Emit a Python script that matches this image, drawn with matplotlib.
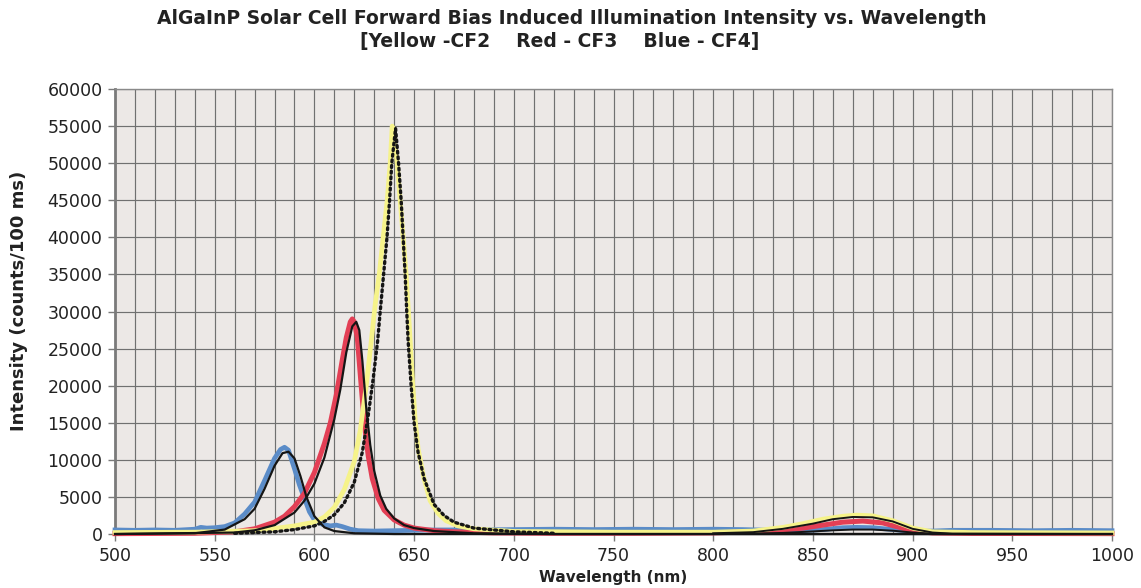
import matplotlib
matplotlib.use("Agg")
import matplotlib.pyplot as plt
from matplotlib.ticker import MultipleLocator

# CF4 - blue, measured spectrum
wl_blue = [500, 510, 520, 530, 540, 543, 546, 550, 555, 560, 565, 570, 575, 580, 583, 585, 587,
           590, 592.5, 595, 597.5, 600, 604, 608, 611, 614, 618, 622, 630, 640, 650, 660, 680, 700,
           720, 740, 760, 780, 800, 815, 830, 845, 855, 865, 872, 880, 890, 900, 910, 920, 940,
           960, 980, 1000]
int_blue = [550, 500, 550, 500, 650, 900, 800, 850, 1000, 1500, 2700, 4300, 7200, 10200, 11400,
            11700, 11300, 8800, 6600, 4800, 3000, 1900, 1300, 1100, 1200, 1000, 650, 450, 400, 450,
            500, 550, 550, 600, 650, 600, 650, 600, 650, 600, 500, 450, 600, 850, 900, 850, 600,
            350, 400, 500, 500, 450, 500, 450]

# CF3 - red, measured spectrum
wl_red = [500, 540, 560, 570, 580, 585, 590, 595, 600, 605, 608, 611, 614, 616, 618, 619, 620,
          621.5, 623, 625, 627, 629, 632, 635, 640, 645, 650, 660, 670, 690, 720, 760, 800, 820,
          835, 845, 855, 865, 875, 885, 892, 900, 910, 930, 1000]
int_red = [50, 100, 300, 700, 1600, 2400, 3700, 5500, 8300, 12200, 15000, 18800, 23500, 26500,
           28600, 29000, 28600, 26500, 21500, 15000, 10500, 7500, 4800, 3200, 1900, 1200, 800, 450,
           300, 150, 100, 100, 150, 300, 550, 800, 1200, 1600, 1750, 1500, 1000, 400, 150, 80, 50]

# CF2 - yellow, measured spectrum
wl_yel = [500, 540, 570, 580, 590, 600, 605, 610, 615, 620, 623, 626, 628.5, 630.5, 632.5, 634.5,
          636.5, 638, 639, 640, 641.5, 643, 644.5, 646, 647.5, 649, 650.5, 652, 655, 658, 662, 666,
          672, 680, 700, 750, 800, 820, 835, 845, 855, 865, 872, 880, 890, 900, 910, 930, 1000]
int_yel = [200, 250, 450, 750, 1100, 1600, 2300, 3600, 6000, 9800, 14000, 20000, 26000, 31000,
           35000, 40000, 45000, 50000, 55000, 53500, 50000, 45000, 40000, 35000, 28500, 21500,
           15500, 11500, 7400, 4500, 2800, 1800, 1100, 700, 350, 250, 250, 400, 900, 1400, 2000,
           2400, 2550, 2450, 1800, 800, 300, 200, 150]

# black fitted curves
wl_bfit = [500, 540, 555, 565, 570, 575, 580, 584, 587, 590, 593, 596, 600, 605, 610, 620, 640,
           1000]
int_bfit = [0, 100, 600, 2000, 3400, 6100, 9200, 10900, 11100, 10200, 7800, 5000, 2400, 900, 400,
            100, 0, 0]

wl_rfit = [500, 560, 570, 580, 590, 595, 600, 605, 610, 613, 616, 619, 621, 622.5, 624, 626, 628,
           630, 633, 636, 640, 645, 650, 660, 680, 720, 1000]
int_rfit = [0, 200, 500, 1200, 2900, 4500, 6800, 10300, 15500, 19500, 24500, 28000, 28600, 27500,
            23500, 17000, 12000, 8500, 5200, 3400, 2100, 1200, 800, 400, 100, 0, 0]

wl_yfit = [560, 580, 590, 600, 605, 610, 615, 620, 624, 627, 629.5, 631.7, 633, 634.7, 636.4,
           637.7, 638.8, 640.7, 642.2, 643.5, 644.5, 645.5, 646.3, 647, 648.5, 650, 652, 655, 660,
           665, 670, 680, 700, 720]
int_yfit = [100, 300, 600, 1100, 1700, 2600, 4200, 7000, 11000, 16000, 21000, 26000, 30000, 35000,
            40000, 45000, 50000, 54700, 50000, 45000, 40000, 35000, 30000, 26000, 20000, 15000,
            11000, 7500, 4000, 2500, 1600, 800, 300, 100]

# fits of the small peak near 870 nm
wl_bump = [800, 820, 835, 850, 860, 870, 880, 890, 900, 910, 920, 1000]
int_bump_hi = [100, 250, 700, 1400, 2000, 2300, 2250, 1700, 700, 200, 50, 0]
int_bump_lo = [0, 50, 150, 350, 500, 600, 600, 450, 200, 50, 0, 0]

fig = plt.figure(figsize=(11.41, 5.88), dpi=100)
ax = fig.add_axes([0.1008, 0.0918, 0.8738, 0.7568])
ax.set_facecolor("#ece8e6")

# measured curves (thick, coloured)
ax.plot(wl_blue, int_blue, color="#5b8cc8", lw=3.4, clip_on=False, zorder=3)
ax.plot(wl_red, int_red, color="#e33f55", lw=3.6, clip_on=False, zorder=3)
ax.plot(wl_yel, int_yel, color="#f6f38a", lw=3.4, clip_on=False, zorder=4)

# fitted curves (black)
ax.plot(wl_bfit, int_bfit, color="#151515", lw=1.6, clip_on=False, zorder=5)
ax.plot(wl_rfit, int_rfit, color="#151515", lw=1.6, clip_on=False, zorder=5)
ax.plot(wl_yfit, int_yfit, color="#151515", lw=2.4, ls=(0, (0.6, 1.1)),
        dash_capstyle="round", clip_on=False, zorder=6)
ax.plot(wl_bump, int_bump_hi, color="#151515", lw=1.4, clip_on=False, zorder=5)
ax.plot(wl_bump, int_bump_lo, color="#151515", lw=1.4, clip_on=False, zorder=5)

ax.set_xlim(500, 1000)
ax.set_ylim(0, 60000)
ax.xaxis.set_major_locator(MultipleLocator(50))
ax.xaxis.set_minor_locator(MultipleLocator(10))
ax.yaxis.set_major_locator(MultipleLocator(5000))

# dark grid, every 10 nm and every 5000 counts
ax.grid(which="both", axis="x", color="#707070", lw=0.85)
ax.grid(which="major", axis="y", color="#707070", lw=0.85)
ax.set_axisbelow(True)

for side in ["top", "right", "bottom"]:
    ax.spines[side].set_color("#8a8a8a")
    ax.spines[side].set_linewidth(1.0)
ax.spines["left"].set_color("#7a7a7a")
ax.spines["left"].set_linewidth(2.0)

ax.tick_params(axis="both", which="major", direction="out", length=5, width=1,
               color="#7a7a7a", labelsize=12.5, labelcolor="#222222", pad=4)
ax.tick_params(axis="x", which="minor", length=0)

ax.set_xlabel("Wavelength (nm)", fontsize=11, fontweight="bold", color="#222222", labelpad=4)
fig.text(19 / 1141, 1 - 301 / 588, "Intensity (counts/100 ms)", rotation=90,
         ha="center", va="center", fontsize=13, fontweight="bold", color="#222222")

fig.text(572 / 1141, 1 - 18 / 588,
         "AlGaInP Solar Cell Forward Bias Induced Illumination Intensity vs. Wavelength",
         ha="center", va="center", fontsize=13.5, fontweight="bold", color="#222222")
fig.text(560 / 1141, 1 - 41 / 588, "[Yellow -CF2    Red - CF3    Blue - CF4]",
         ha="center", va="center", fontsize=13.5, fontweight="bold", color="#222222")

plt.savefig("out.png", dpi=100, facecolor="white")
